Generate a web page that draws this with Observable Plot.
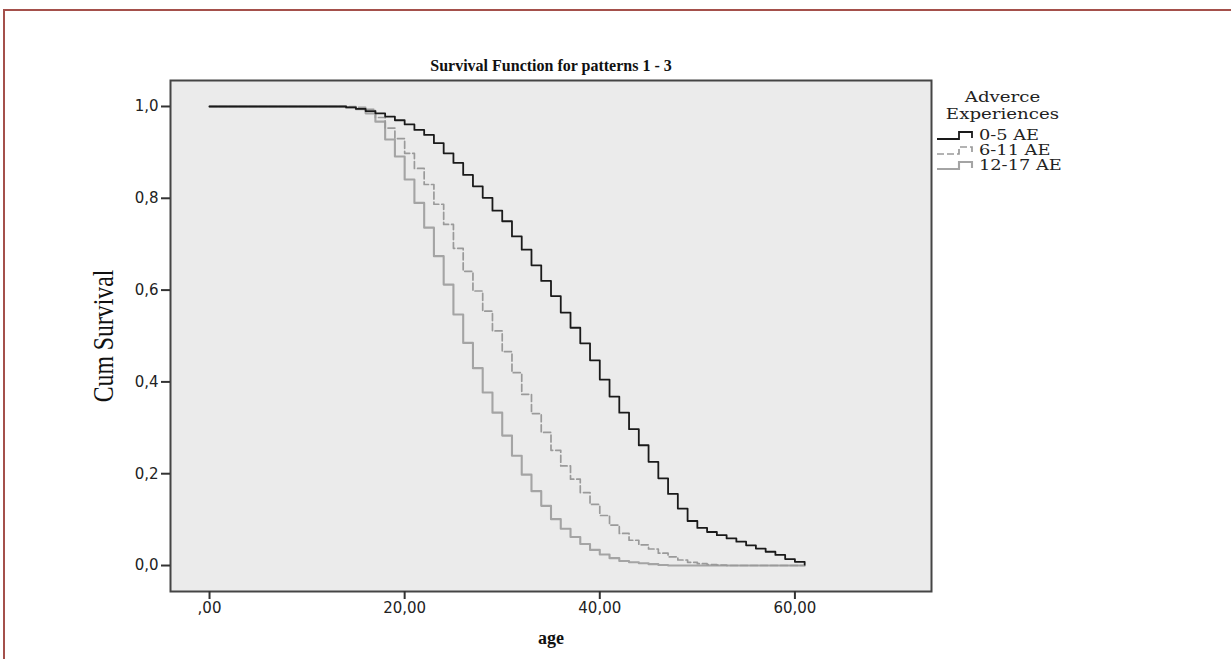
<!DOCTYPE html>
<html>
<head>
<meta charset="utf-8">
<script src="https://cdn.jsdelivr.net/npm/d3@7"></script>
<script src="https://cdn.jsdelivr.net/npm/@observablehq/plot@0.6"></script>
<style>
  body { margin: 0; background: #fff; }
  #wrap { position: relative; width: 1231px; height: 659px; overflow: hidden; background: #fff; }
  #frame { position: absolute; left: 3px; top: 9px; width: 1300px; height: 700px;
           border-top: 2px solid #a4504b; border-left: 2px solid #a4504b; }
  #chart { position: absolute; left: 0; top: 0; }
  #legend { position: absolute; left: 936px; top: 89px; width: 130px;
            font-family: "DejaVu Serif", serif; font-size: 14px; color: #222; }
  #legend .head { text-align: center; line-height: 17px; transform: scaleX(1.3); transform-origin: 50% 50%; margin-left: 3px; }
  #legend .item { display: flex; align-items: center; height: 15px; }
  #legend .item span { display: inline-block; transform: scaleX(1.27); transform-origin: 0 50%; margin-left: 3px; }
</style>
</head>
<body>
<div id="wrap">
  <div id="frame"></div>
  <div id="chart"></div>
  <div id="legend"></div>
</div>
<script>
// ---- data ----
const groups = ["0-5 AE", "6-11 AE", "12-17 AE"];
const legendTitle = ["Adverce", "Experiences"];
const chartTitle = "Survival Function for patterns 1 - 3";
const xLabel = "age";
const yLabel = "Cum Survival";
const xTicks = [0, 20, 40, 60];
const yTicks = [0, 0.2, 0.4, 0.6, 0.8, 1.0];

const agesA = [0,14,15,16,17,18,19,20,21,22,23,24,25,26,27,28,29,30,31,32,33,34,35,36,37,38,39,40,41,42,43,44,45,46,47,48,49,50,51,52,53,54,55,56,57,58,59,60,61];
const survA = [1.000,0.998,0.995,0.990,0.985,0.978,0.970,0.961,0.949,0.938,0.920,0.898,0.877,0.851,0.826,0.801,0.773,0.750,0.717,0.688,0.654,0.620,0.587,0.551,0.518,0.484,0.447,0.405,0.368,0.333,0.297,0.262,0.226,0.190,0.156,0.124,0.097,0.082,0.073,0.066,0.059,0.052,0.044,0.037,0.030,0.023,0.014,0.008,0.002];

const agesB = [0,15,16,17,18,19,20,21,22,23,24,25,26,27,28,29,30,31,32,33,34,35,36,37,38,39,40,41,42,43,44,45,46,47,48,49,50,51,52,53,54,55,56,57,58,59,60,61];
const survB = [1.000,0.998,0.994,0.976,0.953,0.930,0.898,0.865,0.830,0.787,0.743,0.691,0.641,0.598,0.554,0.511,0.466,0.420,0.373,0.331,0.290,0.251,0.217,0.188,0.159,0.133,0.109,0.088,0.070,0.055,0.045,0.036,0.027,0.019,0.012,0.007,0.004,0.002,0.001,0,0,0,0,0,0,0,0,0];

const agesC = [0,14,15,16,17,18,19,20,21,22,23,24,25,26,27,28,29,30,31,32,33,34,35,36,37,38,39,40,41,42,43,44,45,46,47,48,49,50,51,52,53,54,55,56,57,58,59,60,61];
const survC = [1.000,0.998,0.994,0.985,0.967,0.928,0.891,0.841,0.790,0.736,0.674,0.612,0.547,0.485,0.430,0.377,0.333,0.283,0.239,0.198,0.162,0.130,0.101,0.080,0.062,0.047,0.034,0.024,0.016,0.010,0.007,0.005,0.003,0.001,0,0,0,0,0,0,0,0,0,0,0,0,0,0,0];

// ---- styles per series ----
const styles = [
  {stroke: "#1a1a1a", strokeWidth: 1.8, strokeDasharray: null},
  {stroke: "#9a9a9a", strokeWidth: 1.7, strokeDasharray: "7,3"},
  {stroke: "#a4a4a4", strokeWidth: 2.1, strokeDasharray: null}
];

const series = [[agesA, survA], [agesB, survB], [agesC, survC]].map(([a, s], i) =>
  a.map((age, j) => ({group: groups[i], age, surv: s[j]})));

const commaFmt = (d, n) => d.toFixed(n).replace(".", ",");

const lineMarks = series.map((data, i) => Plot.line(data, {
  x: "age", y: "surv", curve: "step-after",
  stroke: styles[i].stroke, strokeWidth: styles[i].strokeWidth,
  strokeDasharray: styles[i].strokeDasharray
}));

const chart = Plot.plot({
  width: 1231, height: 659,
  marginLeft: 170, marginRight: 300, marginTop: 80, marginBottom: 68,
  style: {background: "transparent", fontFamily: "DejaVu Sans, sans-serif", fontSize: "15px", color: "#222"},
  x: {domain: [-4, 74]},
  y: {domain: [-0.0566, 1.0566]},
  marks: [
    Plot.frame({fill: "#ebebeb", stroke: null}),
    ...lineMarks.reverse(),
    Plot.frame({stroke: "#454545", strokeWidth: 2}),
    Plot.axisX({ticks: xTicks, tickFormat: d => d === 0 ? ",00" : commaFmt(d, 2),
                tickSize: 8, tickPadding: 3, label: null, stroke: "#333", strokeWidth: 2, fontSize: 15}),
    Plot.axisY({ticks: yTicks, tickFormat: d => commaFmt(d, 1),
                tickSize: 9, tickPadding: 3, label: null, stroke: "#333", strokeWidth: 2, fontSize: 15}),
    Plot.text([chartTitle], {text: d => d, frameAnchor: "top", dy: -21,
                fontFamily: "Liberation Serif, serif", fontWeight: "bold", fontSize: 16, fill: "#111"}),
    Plot.text([xLabel], {text: d => d, frameAnchor: "bottom", dy: 52,
                fontFamily: "Liberation Serif, serif", fontWeight: "bold", fontSize: 18, fill: "#111"}),
    Plot.text([yLabel], {text: d => d, frameAnchor: "left", textAnchor: "middle", dx: -67, rotate: -90,
                fontFamily: "Liberation Serif, serif", fontSize: 22, fill: "#111"})
  ]
});
document.getElementById("chart").appendChild(chart);

// condensed look of the rotated axis title
d3.select(chart).selectAll("text")
  .filter(function () { return this.textContent === yLabel; })
  .attr("transform", function () { return (this.getAttribute("transform") || "") + " scale(1.08,1.3)"; });

// ---- legend ----
const legend = d3.select("#legend");
legendTitle.forEach(t => legend.append("div").attr("class", "head").text(t));
legend.append("div").style("height", "4px");
groups.forEach((g, i) => {
  const item = legend.append("div").attr("class", "item");
  const svg = item.append("svg").attr("width", 40).attr("height", 14);
  svg.append("path").attr("d", "M1,11H23V4H36V10")
    .attr("fill", "none").attr("stroke", styles[i].stroke)
    .attr("stroke-width", styles[i].strokeWidth)
    .attr("stroke-dasharray", styles[i].strokeDasharray);
  item.append("span").text(g);
});
</script>
</body>
</html>
